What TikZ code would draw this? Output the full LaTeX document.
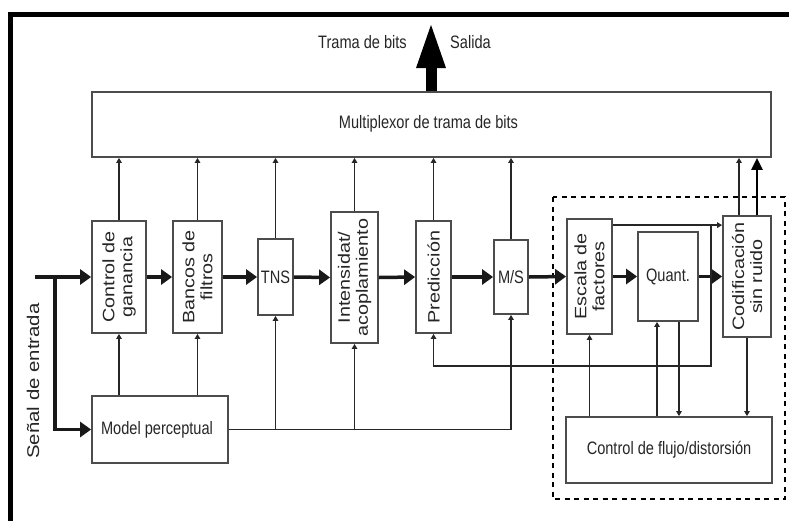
\documentclass[tikz,border=0pt]{standalone}
\usepackage{fontspec}
\setmainfont{Liberation Sans}
\newfontfamily\hfont[FakeStretch=0.81]{Liberation Sans}
\newfontfamily\vfont[FakeStretch=1.2]{Liberation Sans}
\usetikzlibrary{arrows.meta}
\begin{document}
\begin{tikzpicture}[x=1pt,y=-1pt,
  box/.style={draw=black!70, line width=1.8pt, inner sep=0pt, fill=white},
  hlab/.style={font=\hfont\fontsize{18}{20}\selectfont, text=black!85, inner sep=0pt},
  vlab/.style={rotate=90, align=center, font=\vfont\fontsize{16.5}{18}\selectfont, text=black!85, inner sep=0pt},
  flow/.style={draw=black!90, line width=3.5pt, -{Triangle[length=11pt,width=15pt]}},
  thinarr/.style={draw=black!85, line width=1.3pt, -{Triangle[length=5pt,width=5.5pt]}},
  dashbox/.style={draw=black, line width=2.8pt, dash pattern=on 5pt off 4.5pt}
]
\useasboundingbox (0,0) rectangle (789,520);
\clip (0,0) rectangle (789,520);
\fill[white] (0,0) rectangle (789,520);
% frame
\draw[line width=5pt] (10.5,540) -- (10.5,14.5) -- (810,14.5);

% dashed region
\draw[dashbox] (553,197) rectangle (785,499);

% boxes
\node[box, minimum width=679pt, minimum height=65pt] (mux) at (431.5,124.5) {};
\node[hlab] at (428.5,124) {Multiplexor de trama de bits};

\node[box, minimum width=54pt, minimum height=112pt] (cg) at (119,277) {};
\node[vlab] at (cg) {Control de\\ganancia};
\node[box, minimum width=49pt, minimum height=112pt] (bf) at (197.5,277) {};
\node[vlab] at (bf) {Bancos de\\filtros};
\node[box, minimum width=35pt, minimum height=76pt] (tns) at (275.5,277) {};
\node[hlab] at (tns) {TNS};
\node[box, minimum width=47pt, minimum height=131pt] (int) at (354.5,277.5) {};
\node[vlab] at (int) {Intensidat/\\acoplamiento};
\node[box, minimum width=35pt, minimum height=112pt] (pred) at (433.5,277) {};
\node[vlab] at (pred) {Predicción};
\node[box, minimum width=34pt, minimum height=74pt] (ms) at (511,277) {};
\node[hlab] at (ms) {M/S};
\node[box, minimum width=45pt, minimum height=115pt] (esc) at (589.5,276.5) {};
\node[vlab] at (esc) {Escala de\\factores};
\node[box, minimum width=60pt, minimum height=89pt] (quant) at (668,276.5) {};
\node[hlab] at (quant) {Quant.};
\node[box, minimum width=48pt, minimum height=121pt] (cod) at (747,276.5) {};
\node[vlab] at (cod) {Codificación\\sin ruido};
\node[box, minimum width=136pt, minimum height=67pt] (mp) at (160,429.5) {};
\node[hlab] at (157,429.5) {Model perceptual};
\node[box, minimum width=206pt, minimum height=66pt] (cfd) at (669,450) {};
\node[hlab] at (cfd) {Control de flujo/distorsión};

% labels
\node[hlab] at (362.5,42) {Trama de bits};
\node[hlab] at (470.5,42) {Salida};
\node[vlab, font=\vfont\fontsize{17}{18}\selectfont] at (33,381) {Señal de entrada};

% output arrow
\coordinate (out) at (431,21);
\draw[line width=11pt, -{Triangle[length=47pt,width=26pt]}] (mux.north -| out) -- (out);

% input
\coordinate (in) at (35,277);
\coordinate (br) at (55,277);
\draw[flow] (in) -- (cg.west);
\draw[flow] (br) |- (mp.west);

% main flow
\draw[flow] (cg.east) -- (bf.west);
\draw[flow] (bf.east) -- (tns.west);
\draw[flow] (tns.east) -- (int.west);
\draw[flow] (int.east) -- (pred.west);
\draw[flow] (pred.east) -- (ms.west);
\draw[flow] (ms.east) -- (esc.west);
\draw[flow] (esc.east) -- (quant.west);
\draw[flow] (quant.east) -- (cod.west);

% to multiplexor
\foreach \b in {cg,bf,tns,int,pred,ms}
  \draw[thinarr] (\b.north) -- (\b.north |- mux.south);
\draw[thinarr] ([xshift=-8pt]cod.north) -- ([xshift=-8pt]cod.north |- mux.south);
\draw[draw=black, line width=2.6pt, -{Triangle[length=12pt,width=11pt]}] ([xshift=10pt]cod.north) -- ([xshift=10pt]cod.north |- mux.south);

% from model perceptual
\draw[thinarr] (cg.south |- mp.north) -- (cg.south);
\draw[thinarr] (bf.south |- mp.north) -- (bf.south);
\draw[thinarr] (mp.east) -| (ms.south);
\draw[thinarr] (tns.south |- mp.east) -- (tns.south);
\draw[thinarr] (int.south |- mp.east) -- (int.south);

% dashed region connections
\coordinate (sf) at ([yshift=-7pt]esc.north east);
\draw[thinarr] (sf) -- (cod.west |- sf);
\coordinate (fb) at (711,0 |- sf);
\coordinate (fbc) at (711,366);
\draw[thinarr] (fb) -- (fbc) -| (pred.south);
\draw[thinarr] (esc.south |- cfd.north) -- (esc.south);
\draw[thinarr] (657,0 |- cfd.north) -- (657,0 |- quant.south);
\draw[thinarr] (679,0 |- quant.south) -- (679,0 |- cfd.north);
\draw[thinarr] (cod.south) -- (cod.south |- cfd.north);
\end{tikzpicture}
\end{document}
